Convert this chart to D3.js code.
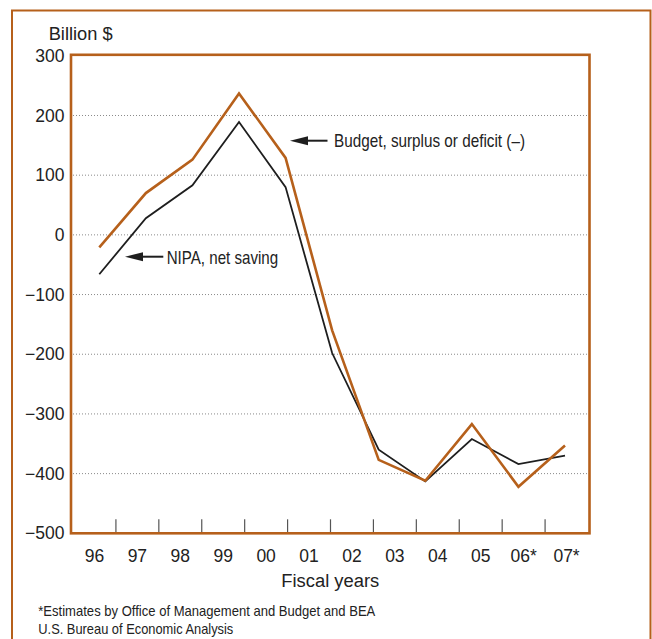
<!DOCTYPE html>
<html>
<head>
<meta charset="utf-8">
<script src="https://cdn.jsdelivr.net/npm/d3@7"></script>
<style>
  html, body { margin: 0; padding: 0; background: #fff; }
  svg { display: block; font-family: "Liberation Sans", Arial, Helvetica, sans-serif; }
</style>
</head>
<body>
<svg id="chart" width="652" height="639"></svg>
<script>
// ---- data ----
const axisLabels = ["96", "97", "98", "99", "00", "01", "02", "03", "04", "05", "06*", "07*"];
const pointKeys = ["97", "98", "99", "00", "01", "02", "03", "04", "05", "06", "07"];
const budgetValues = [-21, 70, 126, 237, 129, -160, -377, -412, -317, -422, -353];
const nipaValues = [-66, 28, 83, 189, 80, -198, -360, -413, -342, -384, -370];
const yTicks = [300, 200, 100, 0, -100, -200, -300, -400, -500];
const yGrid = [200, 100, 0, -100, -200, -300, -400];
const yLabel = "Billion $";
const xTitle = "Fiscal years";
const budgetLabel = "Budget, surplus or deficit (\u2013)";
const nipaLabel = "NIPA, net saving";
const footnotes = ["*Estimates by Office of Management and Budget and BEA", "U.S. Bureau of Economic Analysis"];

// ---- layout ----
const ORANGE = "#b6601b";
const svg = d3.select("#chart");
const x0 = 71, x1 = 589.5, yTop = 55.8, yBot = 533.3;

const y = d3.scaleLinear().domain([-500, 300]).range([yBot, yTop]);
const xBand = d3.scaleBand().domain(axisLabels).range([x0 + 2, x1 - 1.5]);
const xPt = d3.scalePoint().domain(pointKeys).range([x0 + 28.3, x1 - 24.5]);

// outer frame
svg.append("path")
  .attr("d", `M12,650 V10.5 H650.5 V650`)
  .attr("fill", "none").attr("stroke", ORANGE).attr("stroke-width", 2);

// gridlines
svg.append("g").selectAll("line").data(yGrid).join("line")
  .attr("x1", x0 + 2).attr("x2", x1 - 1)
  .attr("y1", d => y(d)).attr("y2", d => y(d))
  .attr("stroke", "#8a8a8a").attr("stroke-width", 1)
  .attr("stroke-dasharray", "1,2");

// bottom ticks between categories
const tickPos = axisLabels.slice(1).map(d => xBand(d));
svg.append("g").selectAll("line").data(tickPos).join("line")
  .attr("x1", d => d).attr("x2", d => d)
  .attr("y1", yBot - 14).attr("y2", yBot)
  .attr("stroke", "#555").attr("stroke-width", 1.2);

// y axis labels
const yAxis = d3.axisLeft(y).tickValues(yTicks).tickSize(0).tickPadding(6)
  .tickFormat(d => d < 0 ? "\u2212" + Math.abs(d) : String(d));
const gy = svg.append("g").attr("transform", `translate(${x0 - 0.5},0)`).call(yAxis);
gy.select(".domain").remove();
gy.selectAll("text").attr("font-size", 17.5).attr("fill", "#222")
  .attr("font-family", "Liberation Sans, Arial, sans-serif");

// x axis labels
const xAxis = d3.axisBottom(xBand).tickSize(0).tickPadding(0);
const gx = svg.append("g").attr("transform", `translate(0,${yBot})`).call(xAxis);
gx.select(".domain").remove();
gx.selectAll("text").attr("font-size", 17.5).attr("fill", "#222")
  .attr("dy", null).attr("y", 28.4)
  .attr("font-family", "Liberation Sans, Arial, sans-serif");

// lines
const lineGen = vals => d3.line().x((d, i) => xPt(pointKeys[i])).y(d => y(d))(vals);
svg.append("path").attr("d", lineGen(nipaValues))
  .attr("fill", "none").attr("stroke", "#1e1e1e").attr("stroke-width", 1.8)
  .attr("stroke-linejoin", "miter");
svg.append("path").attr("d", lineGen(budgetValues))
  .attr("fill", "none").attr("stroke", ORANGE).attr("stroke-width", 2.6)
  .attr("stroke-linejoin", "miter");

// plot frame
svg.append("rect")
  .attr("x", x0).attr("y", y(300) - 1)
  .attr("width", x1 - x0).attr("height", yBot - y(300) + 1)
  .attr("fill", "none").attr("stroke", ORANGE).attr("stroke-width", 2.6);

// text helpers
function addText(txt, x, yy, size, len, anchor) {
  const t = svg.append("text").attr("x", x).attr("y", yy)
    .attr("font-size", size).attr("fill", "#222")
    .attr("text-anchor", anchor || "start").text(txt);
  if (len) t.attr("textLength", len).attr("lengthAdjust", "spacingAndGlyphs");
  return t;
}

addText(yLabel, 48.7, 40.3, 17.5, 64);
addText(xTitle, (x0 + x1) / 2, 586.7, 18, 98, "middle");
addText(footnotes[0], 38.3, 616, 14.5, 337);
addText(footnotes[1], 38.3, 633.5, 14.5, 195);

// annotations with arrows
function arrow(tipX, tipY, endX) {
  svg.append("line").attr("x1", tipX + 10).attr("x2", endX)
    .attr("y1", tipY).attr("y2", tipY)
    .attr("stroke", "#1e1e1e").attr("stroke-width", 2);
  svg.append("path")
    .attr("d", `M${tipX},${tipY} L${tipX + 18},${tipY - 4.5} L${tipX + 18},${tipY + 4.5} Z`)
    .attr("fill", "#1e1e1e");
}
arrow(125, 256.7, 163.3);
addText(nipaLabel, 166.7, 263.8, 17.8, 111.5);
arrow(290, 140.7, 327.5);
addText(budgetLabel, 334, 146.9, 17.8, 191);
</script>
</body>
</html>
